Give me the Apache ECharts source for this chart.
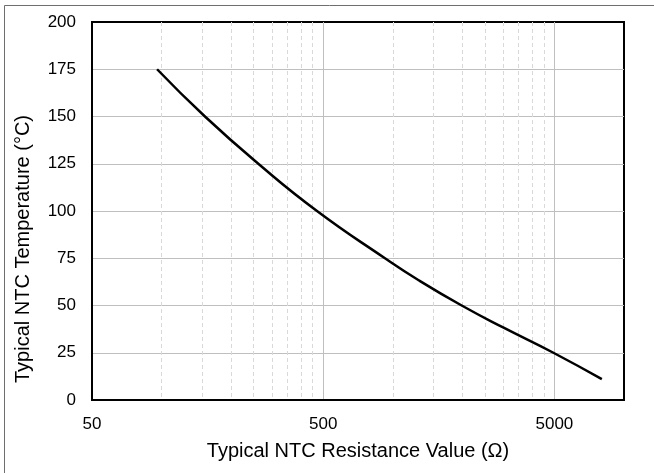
<!DOCTYPE html>
<html><head><meta charset="utf-8">
<script src="https://cdn.jsdelivr.net/npm/echarts@6/dist/echarts.min.js"></script>
<style>html,body{margin:0;padding:0;background:#fff}#c{width:654px;height:473px}</style>
</head><body><div id="c"></div>
<script>
// Resistance (Ohm) vs temperature (°C)
const resistance = [95.6, 154, 262, 470, 925, 1289, 1986, 3000, 4950, 8020];
const temperature = [175, 150, 125, 100, 75, 63.5, 50, 38.4, 25, 11];
const xMajorTicks = [50, 500, 5000];
const xMinorTicks = [100, 150, 200, 250, 300, 350, 400, 450, 1000, 1500, 2000, 2500, 3000, 3500, 4000, 4500];
const yTicks = [0, 25, 50, 75, 100, 125, 150, 175, 200];
const xTitle = 'Typical NTC Resistance Value (Ω)';
const yTitle = 'Typical NTC Temperature (°C)';

const FONT = 'Liberation Sans';
const chart = echarts.init(document.getElementById('c'), null, {renderer: 'canvas'});
chart.setOption({
  animation: false,
  backgroundColor: '#fff',
  grid: {left: 92, top: 22, right: 30, bottom: 73, show: true, borderColor: '#000', borderWidth: 2, containLabel: false},
  graphic: [
    {type: 'line', shape: {x1: 4.5, y1: 5.5, x2: 654, y2: 5.5}, style: {stroke: '#6e6e6e', lineWidth: 1}},
    {type: 'line', shape: {x1: 4.5, y1: 5.5, x2: 4.5, y2: 473}, style: {stroke: '#6e6e6e', lineWidth: 1}}
  ],
  xAxis: [
    {
      type: 'log', logBase: 10, min: 50, max: 10000,
      name: xTitle, nameLocation: 'middle', nameGap: 41,
      nameTextStyle: {fontFamily: FONT, fontSize: 20, color: '#000'},
      axisLine: {show: true, lineStyle: {color: '#000', width: 2}},
      axisTick: {show: false, customValues: xMajorTicks},
      axisLabel: {customValues: xMajorTicks, fontFamily: FONT, fontSize: 17, color: '#000', margin: 16,
        formatter: v => String(Math.round(v))},
      splitLine: {show: true, lineStyle: {color: '#bfbfbf', width: 1, type: 'solid'}}
    },
    {
      type: 'log', logBase: 10, min: 50, max: 10000, position: 'bottom',
      axisLine: {show: false}, axisLabel: {show: false},
      axisTick: {show: false, customValues: xMinorTicks},
      splitLine: {show: true, lineStyle: {color: '#d9d9d9', width: 1, type: [4, 3]}}
    }
  ],
  yAxis: {
    type: 'value', min: 0, max: 200, interval: 25,
    name: yTitle, nameLocation: 'middle', nameGap: 59,
    nameTextStyle: {fontFamily: FONT, fontSize: 20, color: '#000', padding: [0, 76, 0, 0]},
    axisLine: {show: true, lineStyle: {color: '#000', width: 2}},
    axisTick: {show: false},
    axisLabel: {fontFamily: FONT, fontSize: 17, color: '#000', margin: 16,
      formatter: v => yTicks.includes(v) ? String(v) : ''},
    splitLine: {show: true, showMinLine: false, showMaxLine: false, lineStyle: {color: '#bfbfbf', width: 1}}
  },
  series: [{
    type: 'line',
    xAxisIndex: 0,
    data: resistance.map((r, i) => [r, temperature[i]]),
    smooth: 0.5,
    showSymbol: false,
    lineStyle: {color: '#000', width: 2.5},
    z: 5
  }]
});
</script></body></html>
